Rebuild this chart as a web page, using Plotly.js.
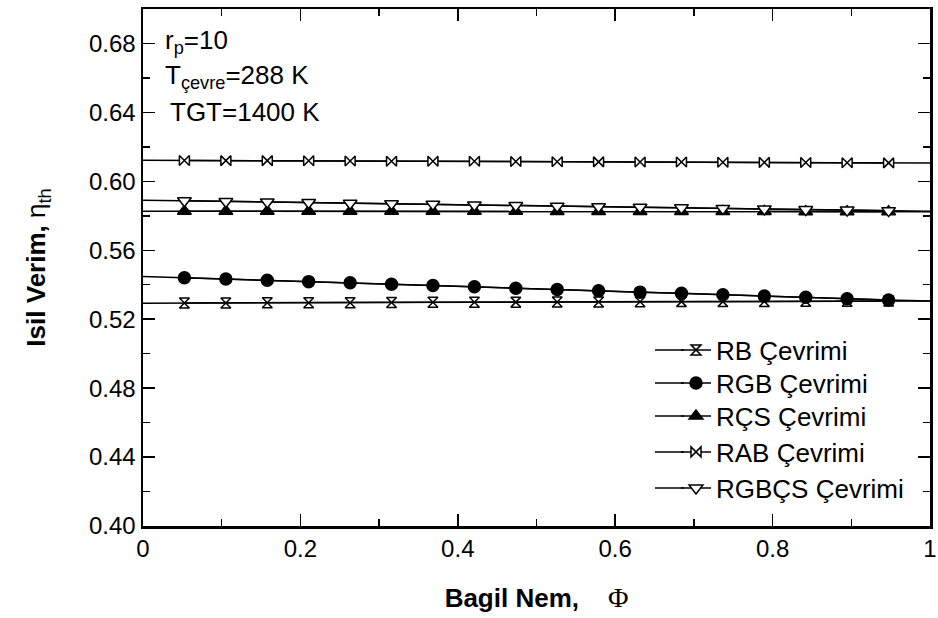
<!DOCTYPE html>
<html>
<head>
<meta charset="utf-8">
<script src="https://cdn.plot.ly/plotly-3.0.1.min.js"></script>
<style>html,body{margin:0;padding:0;background:#fff;}#chart{width:938px;height:618px;}</style>
</head>
<body>
<div id="chart"></div>
<script>
// Relative humidity (x)
const phi = [0, 0.0526, 0.1053, 0.1579, 0.2105, 0.2632, 0.3158, 0.3684, 0.4211, 0.4737,
             0.5263, 0.5789, 0.6316, 0.6842, 0.7368, 0.7895, 0.8421, 0.8947, 0.9474, 1];
// Thermal efficiency series
const rb    = [0.5293, 0.5294, 0.5294, 0.5295, 0.5296, 0.5296, 0.5297, 0.5298, 0.5298, 0.5299,
               0.5300, 0.5300, 0.5301, 0.5302, 0.5302, 0.5303, 0.5304, 0.5304, 0.5305, 0.5306];
const rgb   = [0.5448, 0.5441, 0.5433, 0.5426, 0.5418, 0.5411, 0.5403, 0.5395, 0.5388, 0.5380,
               0.5372, 0.5365, 0.5357, 0.5350, 0.5342, 0.5334, 0.5327, 0.5319, 0.5312, 0.5305];
const rcs   = [0.5827, 0.5827, 0.5827, 0.5827, 0.5826, 0.5826, 0.5826, 0.5826, 0.5826, 0.5826,
               0.5825, 0.5825, 0.5825, 0.5825, 0.5825, 0.5825, 0.5824, 0.5824, 0.5824, 0.5824];
const rab   = [0.6122, 0.6121, 0.6120, 0.6120, 0.6119, 0.6118, 0.6117, 0.6116, 0.6116, 0.6115,
               0.6114, 0.6113, 0.6112, 0.6112, 0.6111, 0.6110, 0.6109, 0.6108, 0.6107, 0.6106];
const rgbcs = [0.5890, 0.5887, 0.5883, 0.5880, 0.5877, 0.5873, 0.5870, 0.5867, 0.5863, 0.5860,
               0.5856, 0.5853, 0.5850, 0.5846, 0.5843, 0.5840, 0.5836, 0.5833, 0.5830, 0.5826];
const names = ["RB Çevrimi", "RGB Çevrimi", "RÇS Çevrimi", "RAB Çevrimi", "RGBÇS Çevrimi"];
const yTicks = [0.40, 0.44, 0.48, 0.52, 0.56, 0.60, 0.64, 0.68];
const xTicks = [0, 0.2, 0.4, 0.6, 0.8, 1];
const notes = ["r<sub>p</sub>=10", "T<sub>çevre</sub>=288 K", "TGT=1400 K"];

const FONT = "Liberation Sans, Arial, sans-serif";
const NARROW = "Liberation Sans Narrow, Arial Narrow, Liberation Sans, Arial, sans-serif";

const series = [
  {y: rb,    sym: "hourglass",     fill: "#fff", size: 10},
  {y: rgb,   sym: "circle",        fill: "#000", size: 12},
  {y: rcs,   sym: "triangle-up",   fill: "#000", size: 12},
  {y: rab,   sym: "bowtie",        fill: "#fff", size: 10},
  {y: rgbcs, sym: "triangle-down", fill: "#fff", size: 12}
];
const legendIds = ["legend", "legend2", "legend3", "legend4", "legend5"];
const legendRowsPx = [350, 383, 416, 452, 488];

const traces = [];
series.forEach((s, i) => {
  traces.push({x: phi, y: s.y, mode: "lines", type: "scatter", showlegend: false,
               line: {color: "#000", width: 1.5}, hoverinfo: "skip"});
});
series.forEach((s, i) => {
  traces.push({x: phi.slice(1, -1), y: s.y.slice(1, -1), mode: "lines+markers", type: "scatter",
               name: names[i], legend: legendIds[i],
               line: {color: "#000", width: 1.5},
               marker: {symbol: s.sym, size: s.size, color: s.fill, line: {color: "#000", width: 1.5}}});
});

const L = 143, R = 8, T = 9, B = 92, W = 938, H = 618;
const pw = W - L - R, ph = H - T - B;
const px2x = p => (p - L) / pw;
const px2y = p => (H - B - p) / ph;

const layout = {
  width: W, height: H,
  margin: {l: L, r: R, t: T, b: B, pad: 0},
  paper_bgcolor: "#fff", plot_bgcolor: "#fff",
  font: {family: FONT, color: "#000", size: 24},
  xaxis: {
    range: [0, 1], tickvals: xTicks, ticktext: xTicks.map(v => String(v)),
    ticks: "inside", ticklen: 12, tickwidth: 1.5, tickcolor: "#000",
    minor: {dtick: 0.1, ticks: "inside", ticklen: 7, tickwidth: 1.5, tickcolor: "#000"},
    showline: true, linewidth: 2.5, linecolor: "#000", mirror: "allticks",
    showgrid: false, zeroline: false,
    tickfont: {family: NARROW, size: 24},
    title: {text: "<b>Bagil Nem,</b>&nbsp;&nbsp;&nbsp;&nbsp;<span style=\"font-family:Liberation Serif,serif;font-size:28px\">Φ</span>",
            font: {family: FONT, size: 26}, standoff: 28}
  },
  yaxis: {
    range: [0.40, 0.70], tickvals: yTicks, ticktext: yTicks.map(v => v.toFixed(2)),
    ticks: "inside", ticklen: 12, tickwidth: 1.5, tickcolor: "#000",
    minor: {dtick: 0.02, ticks: "inside", ticklen: 7, tickwidth: 1.5, tickcolor: "#000"},
    showline: true, linewidth: 2.5, linecolor: "#000", mirror: "allticks",
    showgrid: false, zeroline: false,
    tickfont: {family: FONT, size: 24},
    title: {text: "<b>Isil Verim,</b> η<sub>th</sub>", font: {family: FONT, size: 26}, standoff: 36}
  },
  annotations: [
    {text: notes[0], x: px2x(163), y: px2y(42)},
    {text: notes[1], x: px2x(163), y: px2y(76)},
    {text: notes[2], x: px2x(168), y: px2y(112)}
  ].map(a => Object.assign(a, {xref: "paper", yref: "paper", xanchor: "left", yanchor: "middle",
                               showarrow: false, font: {family: FONT, size: 26, color: "#000"}})),
  shapes: legendRowsPx.map(p => ({type: "line", xref: "paper", yref: "paper",
                                  x0: px2x(655), x1: px2x(684), y0: px2y(p), y1: px2y(p),
                                  line: {color: "#000", width: 1.5}})),
  showlegend: true
};
legendIds.forEach((id, i) => {
  layout[id] = {x: px2x(676), y: px2y(legendRowsPx[i]), xanchor: "left", yanchor: "middle",
                bgcolor: "rgba(0,0,0,0)", borderwidth: 0, font: {family: FONT, size: 26, color: "#000"},
                tracegroupgap: 0};
});

Plotly.newPlot("chart", traces, layout, {displayModeBar: false, staticPlot: true});
</script>
</body>
</html>
